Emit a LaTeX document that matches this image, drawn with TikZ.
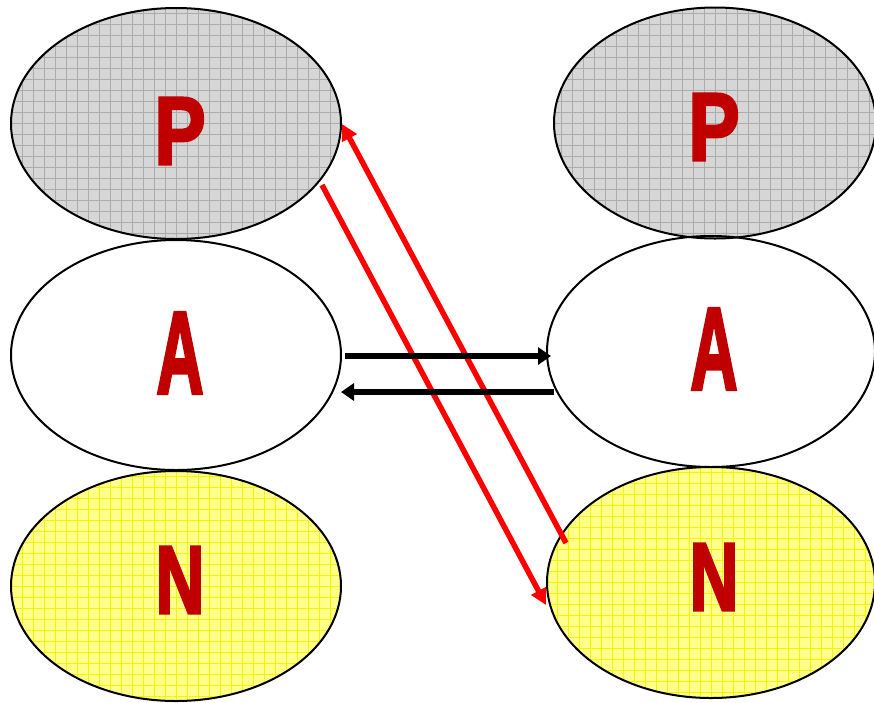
\documentclass[tikz,border=0pt]{standalone}
\usepackage{fontspec}
\setmainfont{Liberation Sans}
\usetikzlibrary{shapes.geometric,arrows.meta}
\definecolor{lettred}{HTML}{C00000}
\definecolor{greyfill}{HTML}{D6D6D6}
\definecolor{greygrid}{HTML}{ABABAB}
\definecolor{yelfill}{HTML}{FFFF8C}
\definecolor{yelgrid}{HTML}{F5F500}
\newcommand\heavyletter[1]{\special{pdf:literal direct 2 Tr 3 w}#1\special{pdf:literal direct 0 Tr 1 w}}
\tikzset{
  blob/.style={ellipse, draw=black, line width=2pt, inner sep=0pt,
    minimum width=330pt, minimum height=231pt},
  greyblob/.style={blob, fill=greyfill, path picture={
    \draw[greygrid, line width=0.9pt] (path picture bounding box.south west) grid[step=11pt] (path picture bounding box.north east);}},
  yelblob/.style={blob, fill=yelfill, path picture={
    \draw[yelgrid, line width=0.9pt] (path picture bounding box.south west) grid[step=11pt] (path picture bounding box.north east);}},
  lett/.style={text=lettred, font=\fontsize{96}{96}\selectfont\bfseries, xscale=0.8},
  lettA/.style={lett, xscale=0.85, yscale=1.22},
  lettN/.style={lett, xscale=0.88},
  blackarr/.style={line width=6.5pt, -{Triangle[length=13pt,width=17pt]}},
  redarr/.style={red, line width=5.5pt, -{Triangle[length=16pt,width=16pt]}}
}
\begin{document}
\begin{tikzpicture}[x=1pt,y=-1pt]
\useasboundingbox (0,0) rectangle (874,702);
\node[greyblob] (lp) at (176,123.5) {};
\node[blob, minimum height=230pt] (la) at (176,355) {};
\node[yelblob, minimum height=230pt] (ln) at (176,586) {};
\node[greyblob, minimum width=322pt] (rp) at (715,123) {};
\node[blob, minimum width=328pt] (ra) at (711,351.5) {};
\node[yelblob, minimum width=328pt] (rn) at (711,582.5) {};
\node[lett] (lpt) at (180,131) {\heavyletter{P}};
\node[lettA] (lat) at (180,353) {\heavyletter{A}};
\node[lettN] (lnt) at (180,580) {\heavyletter{N}};
\node[lett] (rpt) at (714,127) {\heavyletter{P}};
\node[lettA] (rat) at (714,349) {\heavyletter{A}};
\node[lettN] (rnt) at (714,577) {\heavyletter{N}};
\coordinate (r1s) at (322,185);
\coordinate (r1e) at (546,605);
\coordinate (r2s) at (566,543);
\coordinate (r2e) at (342,124);
\draw[redarr] (r1s) -- (r1e);
\draw[redarr] (r2s) -- (r2e);
\coordinate (b1s) at (345,356);
\coordinate (b1e) at (551,356);
\coordinate (b2s) at (554,392);
\coordinate (b2e) at (341,392);
\draw[blackarr] (b1s) -- (b1e);
\draw[blackarr] (b2s) -- (b2e);
\end{tikzpicture}
\end{document}
